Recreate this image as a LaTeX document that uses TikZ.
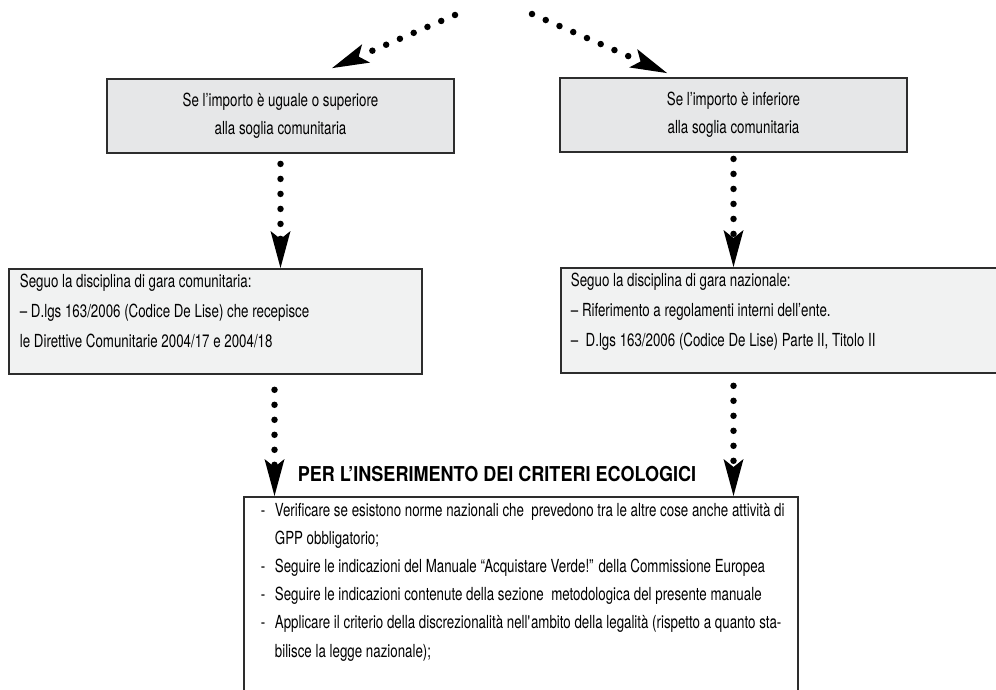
\documentclass[tikz,border=0pt]{standalone}
\usepackage{fontspec}
\setmainfont{TeX Gyre Heros}[FakeStretch=0.74]
\newfontfamily\titolofont{TeX Gyre Heros}[FakeStretch=0.88]
\usepackage{tikz}
\usetikzlibrary{arrows.meta,positioning}
\definecolor{sogliagray}{RGB}{230,231,232}
\definecolor{garagray}{RGB}{241,242,242}
\definecolor{boxline}{RGB}{45,45,45}
\tikzset{
  soglia/.style={rectangle, draw=boxline, line width=1.8pt, fill=sogliagray, minimum width=347pt, minimum height=74pt, align=center, font=\fontsize{18}{28}\selectfont},
  gara/.style={rectangle, draw=boxline, line width=1.8pt, fill=garagray, inner sep=0pt, font=\fontsize{18}{30}\selectfont},
  criteri/.style={rectangle, draw=boxline, line width=1.8pt, fill=white, inner sep=0pt, font=\fontsize{18}{28.2}\selectfont},
  dotarrow/.style={line width=6.5pt, line cap=round, dash pattern=on 0pt off 15pt, -{Stealth[length=37pt, width=20pt, inset=8pt, line width=0pt]}}
}
\newcommand{\sogliabox}[3] {\node at (#1) (#2) [soglia] {#3};}
\newcommand{\garabox}[4] {\node at (#1) (#2) [gara, anchor=north west] {\parbox[t][105pt][t]{#3}{\vspace{5pt}#4}};}
\newcommand{\dotstep}[3] {\draw [dotarrow, shorten <=#3] (#1) -- (#2);}
\newcommand{\voce}[1] {\makebox[14pt][l]{-}#1}
\newcommand{\segue}[1] {\hspace*{14pt}#1}

\begin{document}
\begin{tikzpicture}[x=1pt, y=-1pt]
\useasboundingbox (0,0) rectangle (996,690);

\sogliabox {280.5,116}{A}{Se l’importo è uguale o superiore\\alla soglia comunitaria};
\sogliabox {733.5,115}{B}{Se l’importo è inferiore\\alla soglia comunitaria};

\garabox {8,268}{C}{413pt}{\hspace*{11pt}Seguo la disciplina di gara comunitaria:\\
  \hspace*{11pt}– D.lgs 163/2006 (Codice De Lise) che recepisce\\
  \hspace*{11pt}le Direttive Comunitarie 2004/17 e 2004/18};
\garabox {560,267}{D}{445pt}{\hspace*{10pt}Seguo la disciplina di gara nazionale:\\
  \hspace*{10pt}– Riferimento a regolamenti interni dell’ente.\\
  \hspace*{10pt}–\ \ D.lgs 163/2006 (Codice De Lise) Parte II, Titolo II};

\node at (497,474) (titolo) [font=\fontsize{20.5}{24}\selectfont\titolofont\bfseries] {PER L’INSERIMENTO DEI CRITERI ECOLOGICI};

\node at (243,496) (E) [criteri, anchor=north west] {\parbox[t][240pt][t]{554pt}{\vspace{6pt}\leftskip=17pt
  \voce{Verificare se esistono norme nazionali che\ \ prevedono tra le altre cose anche attività di}\\
  \segue{GPP obbligatorio;}\\
  \voce{Seguire le indicazioni del Manuale “Acquistare Verde!” della Commissione Europea}\\
  \voce{Seguire le indicazioni contenute della sezione\ \ metodologica del presente manuale}\\
  \voce{Applicare il criterio della discrezionalità nell\textquotesingle ambito della legalità (rispetto a quanto sta-}\\
  \segue{bilisce la legge nazionale);}}};

% frecce punteggiate
\coordinate (startL) at (455,15);
\coordinate (startR) at (532,14);
\draw [dotarrow] (startL) -- ([xshift=226pt, yshift=10pt]A.north west);
\draw [dotarrow] (startR) -- ([xshift=108pt, yshift=4pt]B.north west);
\dotstep {A.south}{A.south |- C.north}{10pt};
\dotstep {B.south}{B.south |- D.north}{6pt};
\dotstep {[xshift=-6pt]A.south |- C.south}{[xshift=-6pt]A.south |- E.north}{15pt};
\dotstep {B.south |- D.south}{B.south |- E.north}{12pt};
\end{tikzpicture}
\end{document}
